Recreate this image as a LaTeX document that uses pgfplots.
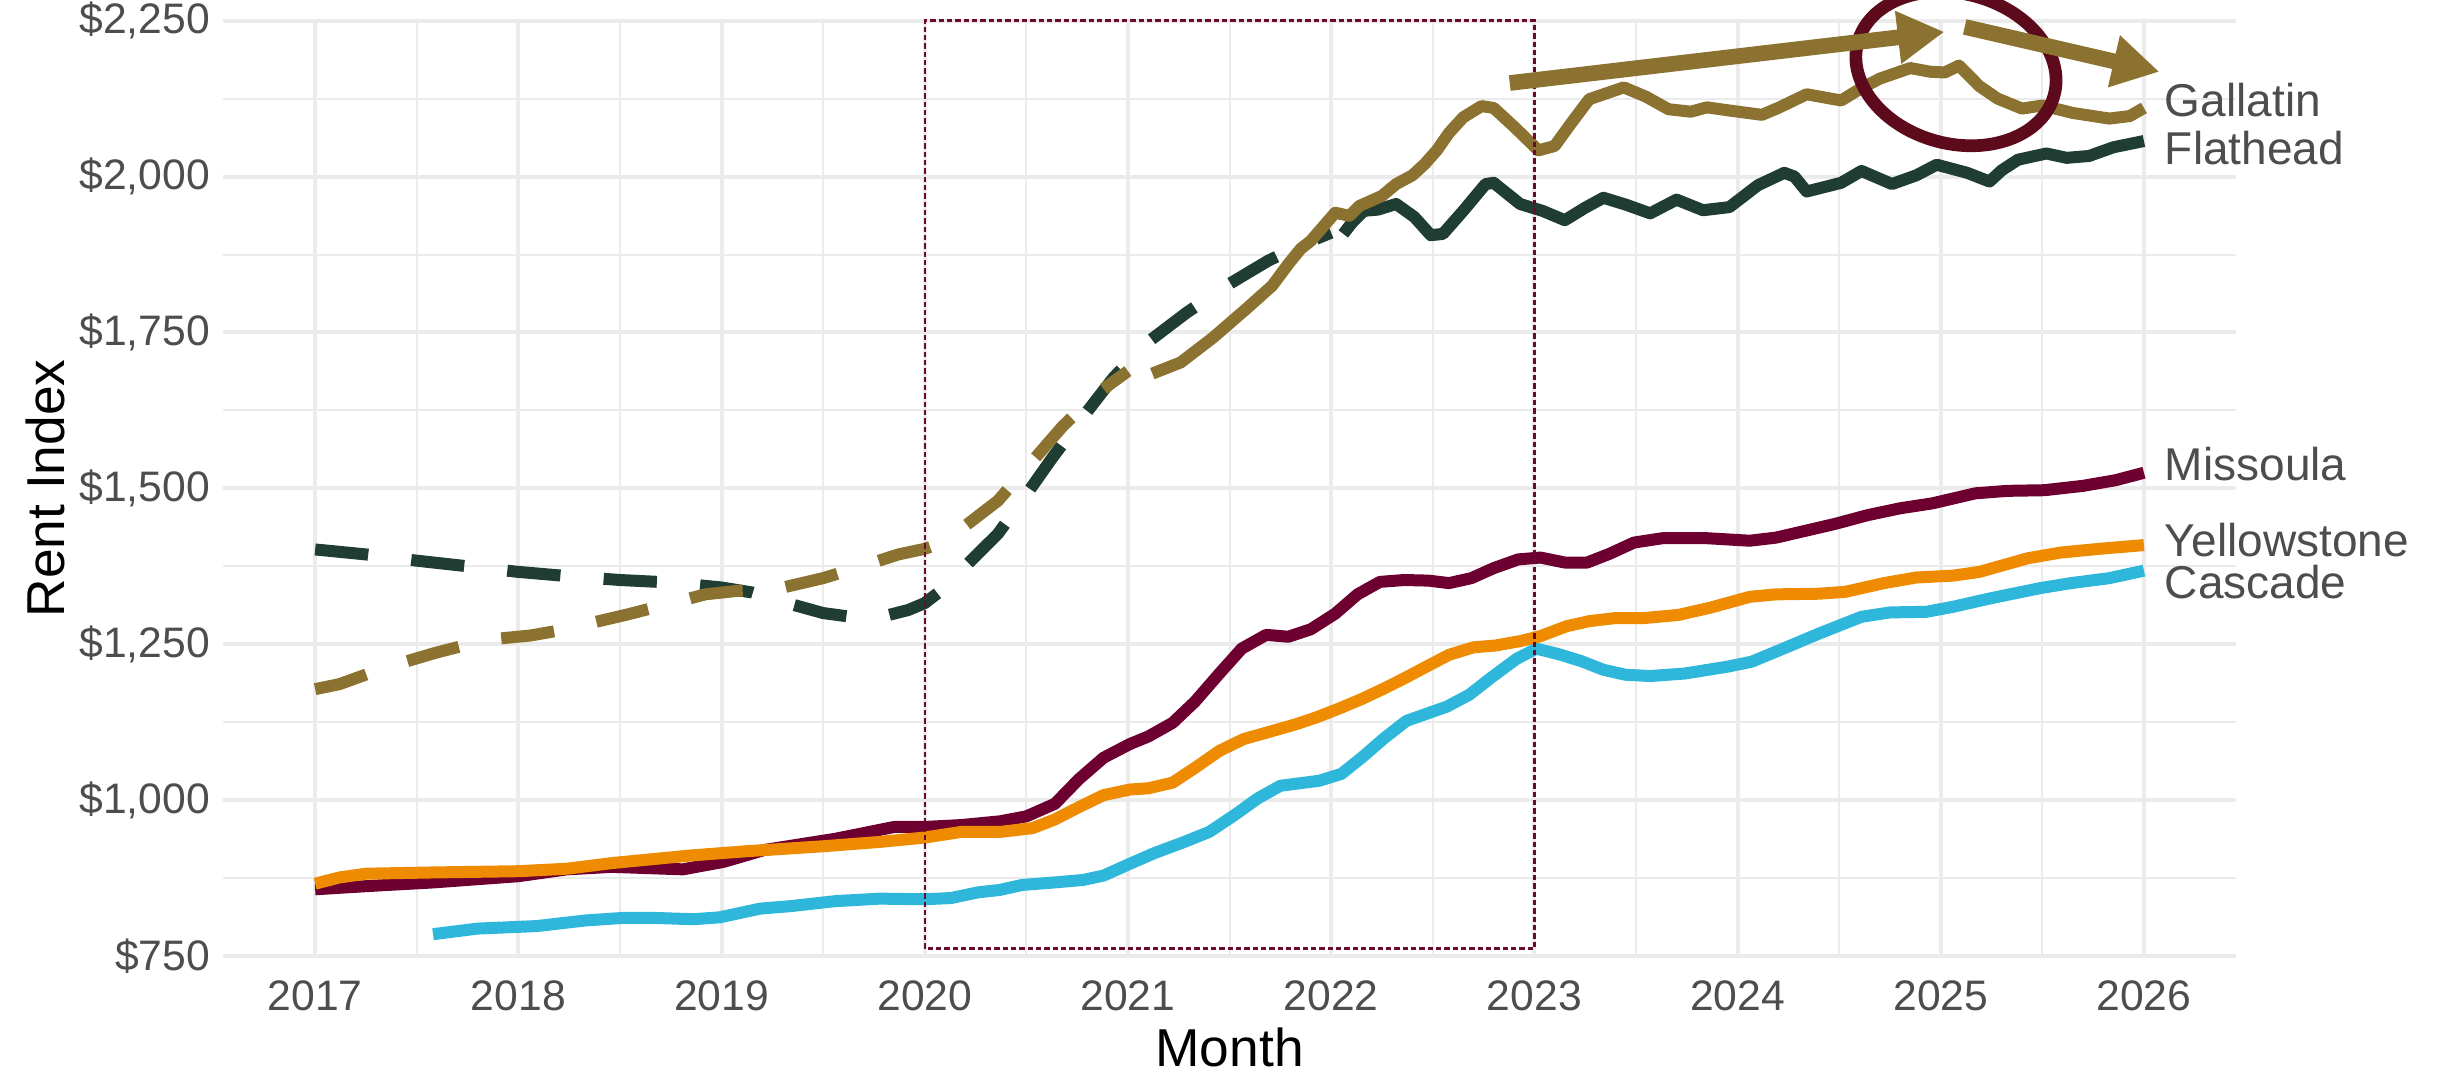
\documentclass[border=0pt]{standalone}
\usepackage{pgfplots}
\pgfplotsset{compat=1.18}
\usepackage{fontspec}
\setmainfont{Liberation Sans}
\usetikzlibrary{arrows.meta}

\definecolor{gallatin}{HTML}{8B7230}
\definecolor{flathead}{HTML}{1F3D33}
\definecolor{missoula}{HTML}{6D0030}
\definecolor{yellowstone}{HTML}{EE8B00}
\definecolor{cascade}{HTML}{2EB7DA}
\definecolor{ring}{HTML}{5C0A1C}
\definecolor{boxcol}{HTML}{6B0A2A}
\definecolor{gridgray}{HTML}{EBEBEB}
\definecolor{labgray}{HTML}{4D4D4D}

\begin{document}
\begin{tikzpicture}
\begin{axis}[
  scale only axis, width=603.8pt, height=280.6pt,
  at={(0,0)}, anchor=south west,
  xmin=2016.548, xmax=2026.453, ymin=750, ymax=2250,
  clip=false,
  axis line style={draw=none},
  major tick length=0pt, minor tick length=0pt,
  xtick={2017,2018,2019,2020,2021,2022,2023,2024,2025,2026},
  xticklabels={2017,2018,2019,2020,2021,2022,2023,2024,2025,2026},
  ytick={750,1000,1250,1500,1750,2000,2250},
  yticklabels={{\$750},{\$1,000},{\$1,250},{\$1,500},{\$1,750},{\$2,000},{\$2,250}},
  minor x tick num=1, minor y tick num=1,
  grid=both,
  major grid style={gridgray, line width=1.2pt},
  minor grid style={gridgray, line width=0.6pt},
  tick label style={font=\fontsize{12.8}{14}\selectfont, text=labgray, inner sep=0pt},
  xticklabel style={anchor=north, yshift=-7.2pt},
  yticklabel style={anchor=east, xshift=-3.8pt},
  every axis plot/.append style={line width=3.6pt, line join=round, no markers},
]

% Cascade
\addplot[cascade] coordinates {
(2017.58,785) (2017.80,794) (2018.09,798) (2018.33,807) (2018.51,811) (2018.68,811)
(2018.86,809) (2018.99,812) (2019.19,826) (2019.34,830) (2019.56,838) (2019.78,842)
(2020.00,841) (2020.13,843) (2020.26,852) (2020.37,856) (2020.48,864) (2020.64,868)
(2020.78,872) (2020.88,879) (2021.01,898) (2021.13,915) (2021.27,932) (2021.40,949)
(2021.52,975) (2021.64,1003) (2021.75,1023) (2021.94,1031) (2022.05,1042) (2022.15,1068)
(2022.26,1099) (2022.37,1127) (2022.57,1150) (2022.68,1169) (2022.79,1197) (2022.91,1226)
(2023.01,1243) (2023.12,1234) (2023.23,1223) (2023.34,1209) (2023.45,1201) (2023.57,1199)
(2023.74,1203) (2023.95,1214) (2024.07,1222) (2024.24,1245) (2024.40,1267) (2024.61,1294)
(2024.75,1301) (2024.93,1302) (2025.06,1310) (2025.25,1324) (2025.49,1340) (2025.64,1348)
(2025.83,1356) (2026.00,1368)
};

% Flathead, dashed then solid
\addplot[flathead, dash pattern=on 16pt off 13pt] coordinates {
(2017.00,1402) (2017.25,1394) (2017.50,1384) (2017.75,1375) (2018.00,1366) (2018.25,1359)
(2018.50,1353) (2018.75,1349) (2019.00,1341) (2019.15,1333) (2019.30,1318) (2019.50,1300)
(2019.66,1293) (2019.80,1295) (2019.92,1305) (2020.00,1316) (2020.08,1336) (2020.20,1375)
(2020.36,1427) (2020.50,1490) (2020.63,1550) (2020.78,1615) (2020.93,1678) (2021.10,1735)
(2021.29,1782) (2021.50,1828) (2021.69,1865) (2021.85,1890) (2022.00,1910)
};
\addplot[flathead] coordinates {
(2022.06,1908) (2022.10,1925) (2022.16,1945) (2022.23,1947) (2022.32,1956) (2022.41,1935)
(2022.49,1906) (2022.55,1908) (2022.65,1945) (2022.76,1988) (2022.80,1990) (2022.93,1956)
(2023.04,1945) (2023.15,1930) (2023.25,1950) (2023.34,1966) (2023.45,1955) (2023.57,1941)
(2023.70,1963) (2023.83,1946) (2023.96,1951) (2024.10,1986) (2024.23,2006) (2024.28,2000)
(2024.34,1976) (2024.45,1985) (2024.51,1990) (2024.61,2009) (2024.76,1988) (2024.88,2002)
(2024.98,2019) (2025.13,2006) (2025.24,1992) (2025.30,2010) (2025.38,2027) (2025.52,2037)
(2025.62,2030) (2025.73,2033) (2025.85,2047) (2026.00,2057)
};

% Gallatin, dashed then solid
\addplot[gallatin, dash pattern=on 16pt off 13pt] coordinates {
(2017.00,1178) (2017.12,1186) (2017.34,1212) (2017.59,1236) (2017.84,1257) (2018.06,1264)
(2018.20,1272) (2018.54,1298) (2018.78,1318) (2018.92,1330) (2019.09,1336) (2019.25,1337)
(2019.50,1356) (2019.69,1375) (2019.87,1394) (2020.00,1403) (2020.08,1412) (2020.20,1440)
(2020.36,1480) (2020.52,1540) (2020.68,1600) (2020.84,1650) (2021.00,1688)
};
\addplot[gallatin] coordinates {
(2021.12,1684) (2021.26,1702) (2021.42,1742) (2021.59,1790) (2021.71,1825) (2021.79,1860)
(2021.85,1884) (2021.90,1897) (2021.98,1927) (2022.02,1942) (2022.09,1937) (2022.14,1953)
(2022.25,1969) (2022.32,1988) (2022.40,2002) (2022.46,2020) (2022.52,2042) (2022.58,2070)
(2022.65,2095) (2022.74,2113) (2022.80,2110) (2022.90,2080) (2023.02,2042) (2023.10,2049)
(2023.18,2085) (2023.27,2124) (2023.44,2143) (2023.55,2128) (2023.66,2108) (2023.77,2104)
(2023.85,2111) (2023.98,2105) (2024.12,2099) (2024.20,2110) (2024.34,2132) (2024.51,2122)
(2024.60,2140) (2024.70,2157) (2024.85,2174) (2024.95,2168) (2025.02,2167) (2025.09,2178)
(2025.19,2145) (2025.28,2125) (2025.40,2109) (2025.50,2114) (2025.65,2102) (2025.83,2093)
(2025.93,2097) (2026.00,2110)
};

% Missoula
\addplot[missoula] coordinates {
(2017.00,857) (2017.25,862) (2017.58,868) (2018.00,878) (2018.24,889) (2018.46,893)
(2018.81,889) (2019.01,901) (2019.21,920) (2019.56,938) (2019.85,957) (2020.00,957)
(2020.18,960) (2020.37,966) (2020.50,974) (2020.64,994) (2020.76,1034) (2020.88,1068)
(2021.01,1090) (2021.10,1102) (2021.22,1124) (2021.33,1158) (2021.45,1203) (2021.56,1243)
(2021.68,1265) (2021.79,1262) (2021.90,1274) (2022.02,1299) (2022.13,1330) (2022.24,1350)
(2022.36,1353) (2022.48,1352) (2022.58,1348) (2022.69,1356) (2022.80,1372) (2022.92,1386)
(2023.03,1389) (2023.15,1381) (2023.26,1381) (2023.37,1395) (2023.49,1413) (2023.63,1420)
(2023.85,1420) (2024.06,1416) (2024.19,1421) (2024.48,1443) (2024.64,1457) (2024.80,1468)
(2024.96,1476) (2025.17,1492) (2025.33,1496) (2025.51,1497) (2025.70,1504) (2025.86,1513)
(2026.00,1525)
};

% Yellowstone
\addplot[yellowstone] coordinates {
(2017.00,866) (2017.12,876) (2017.25,882) (2017.58,884) (2018.00,886) (2018.24,890)
(2018.46,899) (2018.84,911) (2019.12,918) (2019.50,926) (2019.78,933) (2020.00,940)
(2020.18,949) (2020.37,949) (2020.53,955) (2020.64,969) (2020.76,989) (2020.88,1008)
(2021.01,1017) (2021.10,1019) (2021.22,1028) (2021.34,1054) (2021.45,1079) (2021.57,1098)
(2021.69,1109) (2021.82,1121) (2021.93,1133) (2022.04,1147) (2022.15,1162) (2022.26,1179)
(2022.37,1197) (2022.48,1216) (2022.58,1233) (2022.70,1245) (2022.81,1248) (2022.93,1255)
(2023.03,1263) (2023.16,1279) (2023.27,1287) (2023.40,1292) (2023.54,1292) (2023.71,1297)
(2023.87,1309) (2024.06,1326) (2024.19,1330) (2024.40,1331) (2024.53,1334) (2024.72,1348)
(2024.88,1357) (2025.06,1360) (2025.19,1366) (2025.43,1388) (2025.59,1397) (2025.78,1403)
(2026.00,1409)
};

% highlight box and annotations
\draw[boxcol, line width=0.7pt, dash pattern=on 1.6pt off 0.9pt]
  (axis cs:2020,762) rectangle (axis cs:2023,2250);
\draw[ring, line width=3.8pt, rotate around={-15:(axis cs:2025.075,2173)}]
  (axis cs:2025.075,2173) ellipse [x radius=30.5pt, y radius=22.5pt];
\draw[gallatin, line width=4.7pt, -{Triangle[length=14pt,width=15pt]}]
  (axis cs:2022.879,2150) -- (axis cs:2025.018,2232);
\draw[gallatin, line width=4.7pt, -{Triangle[length=14pt,width=15pt]}]
  (axis cs:2025.118,2240) -- (axis cs:2026.076,2168);

% series labels
\begin{scope}[every node/.style={anchor=base west, inner sep=0pt, text=labgray,
    font=\fontsize{13.8}{16}\selectfont}]
\node at (axis cs:2026.1,2096) {Gallatin};
\node at (axis cs:2026.1,2020) {Flathead};
\node at (axis cs:2026.1,1513) {Missoula};
\node at (axis cs:2026.1,1390) {Yellowstone};
\node at (axis cs:2026.1,1324) {Cascade};
\end{scope}

% axis titles
\node[anchor=base, inner sep=0pt, font=\fontsize{16}{18}\selectfont]
  at ([yshift=-33pt]axis description cs:0.5,0) {Month};
\node[anchor=base, inner sep=0pt, rotate=90, font=\fontsize{16}{18}\selectfont]
  at ([xshift=-47.6pt]axis description cs:0,0.5) {Rent Index};
\end{axis}
\pgfresetboundingbox
\useasboundingbox (-66.99pt,-35.1pt) rectangle (665.61pt,286.8pt);
\end{tikzpicture}
\end{document}
